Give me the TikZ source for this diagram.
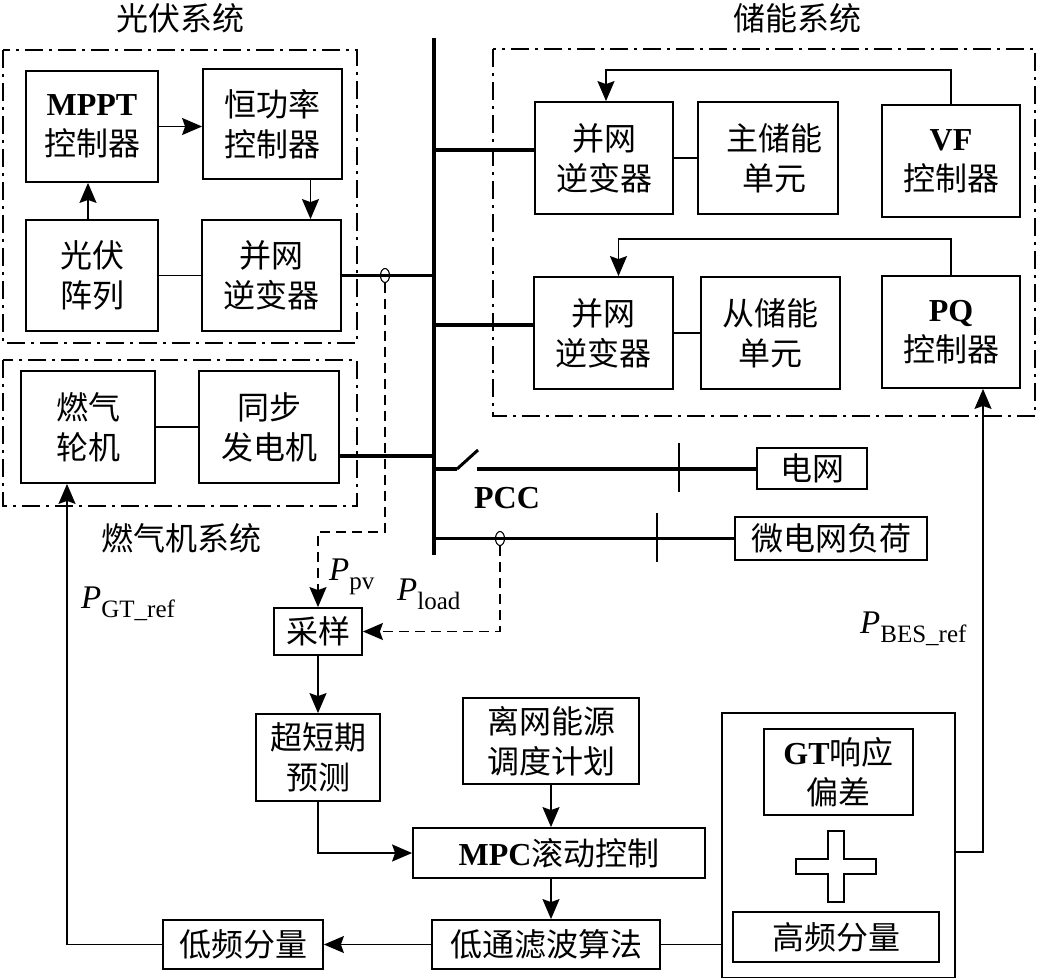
\documentclass[tikz,border=0pt]{standalone}
\usepackage{fontspec}
\setmainfont{Liberation Serif}
\newfontfamily\cjk{Noto Sans CJK SC}
\usetikzlibrary{arrows.meta,shapes.geometric}
\newcommand\lat[1]{{\rmfamily\bfseries #1}}
\newcommand\Pl[1]{{\rmfamily\itshape P}\raisebox{-9pt}{\rmfamily\fontsize{25pt}{25pt}\selectfont #1}}
\newcommand\bx[6]{\node[box, minimum width={(#4-#2)*1pt}, minimum height={(#5-#3)*1pt}] (#1) at ({(#2+#4)/2},{(#3+#5)/2}) {#6};}
\begin{document}
\begin{tikzpicture}[x=1pt,y=-1pt,
  box/.style={draw, line width=1.8pt, inner sep=0pt, align=center, font=\cjk\fontsize{32pt}{40pt}\selectfont},
  arr/.style={line width=1.6pt, -{Stealth[length=20pt,width=17pt,inset=3pt]}},
  ln/.style={line width=1.6pt},
  feeder/.style={line width=3.8pt},
  sysframe/.style={line width=1.5pt, dash pattern=on 18pt off 6pt on 3pt off 6pt},
  sigarr/.style={line width=1.6pt, dash pattern=on 10pt off 6pt, -{Stealth[length=20pt,width=17pt,inset=3pt]}},
  lbl/.style={font=\cjk\fontsize{32pt}{40pt}\selectfont, inner sep=0pt},
  plbl/.style={font=\fontsize{33pt}{33pt}\selectfont, inner sep=0pt, anchor=base west},
  ct/.style={draw, ellipse, line width=1.1pt, minimum width=9pt, minimum height=14pt, inner sep=0pt},
]
\useasboundingbox (0,0) rectangle (1041,977);

% system frames
\draw[sysframe] (3,50) rectangle (357,343);
\draw[sysframe] (3,360) rectangle (357,506);
\draw[sysframe] (493,49) rectangle (1035,416);
\node[lbl] (pvlabel) at (180,18) {光伏系统};
\node[lbl] (beslabel) at (797,18) {储能系统};
\node[lbl] (gtlabel) at (181,538) {燃气机系统};

% bus
\coordinate (bustop) at (434,38);
\coordinate (busbot) at (434,555);
\draw[line width=4.5pt] (bustop) -- (busbot);
\coordinate (ct1x) at (385,0);
\coordinate (ct2x) at (500,0);

% PV system
\bx{mppt}{26}{71}{158}{182}{\lat{MPPT}\\控制器}
\bx{hgl}{203}{69}{342}{179}{恒功率\\控制器}
\bx{pva}{26}{220}{158}{331}{光伏\\阵列}
\bx{pvinv}{202}{220}{341}{331}{并网\\逆变器}
\draw[arr] (mppt.east) -- (mppt.east -| hgl.west);
\draw[arr] ([xshift=38pt]hgl.south) -- ([xshift=38pt]hgl.south |- pvinv.north);
\draw[arr] ([xshift=-4pt]pva.north) -- ([xshift=-4pt]mppt.south);
\draw[ln] (pva.east) -- (pvinv.west);
\draw[feeder] (pvinv.east) -- (pvinv.east -| bustop);
\node[ct] (ct1) at (pvinv.east -| ct1x) {};

% gas turbine system
\bx{gt}{21}{371}{155}{483}{燃气\\轮机}
\bx{sg}{199}{371}{339}{483}{同步\\发电机}
\draw[ln] (gt.east) -- (sg.west);
\draw[feeder] ([yshift=-29pt]sg.east) -- ([yshift=-29pt]sg.east -| bustop);

% storage system
\bx{inva}{535}{102}{673}{214}{并网\\逆变器}
\bx{mainu}{698}{102}{838}{214}{\hspace*{12pt}主储能\\\hspace*{12pt}单元}
\bx{vf}{882}{105}{1020}{217}{\lat{VF}\\控制器}
\bx{invb}{534}{277}{673}{389}{并网\\逆变器}
\bx{slaveu}{701}{277}{840}{389}{从储能\\单元}
\bx{pq}{882}{276}{1020}{388}{\lat{PQ}\\控制器}
\draw[feeder] ([yshift=8pt]inva.west -| bustop) -- ([yshift=8pt]inva.west);
\draw[feeder] ([yshift=8pt]invb.west -| bustop) -- ([yshift=8pt]invb.west);
\draw[ln] (inva.east) -- (mainu.west);
\draw[ln] (invb.east) -- (slaveu.west);
\draw[arr] (vf.north) -- ++(0,-34) -| ([xshift=2pt]inva.north);
\draw[arr] (pq.north) -- ++(0,-36) -| ([xshift=15pt]invb.north);

% grid and load
\bx{grid}{757}{448}{867}{489}{电网}
\bx{load}{735}{517}{927}{560}{微电网负荷}
\coordinate (swa) at (457,469);
\coordinate (swb) at (477,469);
\draw[feeder] (swa -| bustop) -- (swa);
\draw[line width=3pt] (swa) -- ++(21,-19);
\draw[feeder] (swb) -- (grid.west |- swb);
\coordinate (tk1) at (679,469);
\draw[ln] ([yshift=26pt]tk1) -- ([yshift=-23pt]tk1);
\draw[feeder] (load.west -| bustop) -- (load.west);
\coordinate (tk2) at (657,538);
\draw[ln] ([yshift=25pt]tk2) -- ([yshift=-24pt]tk2);
\node[font=\rmfamily\bfseries\fontsize{32pt}{32pt}\selectfont, inner sep=0pt] (pcc) at (507,498) {PCC};
\node[ct] (ct2) at (load.west -| ct2x) {};

% control chain
\bx{cy}{274}{608}{362}{655}{采样}
\bx{pred}{256}{714}{380}{801}{超短期\\预测}
\bx{plan}{463}{698}{639}{784}{离网能源\\调度计划}
\bx{mpc}{413}{828}{705}{878}{\lat{MPC}滚动控制}
\bx{lpf}{432}{920}{660}{969}{低通滤波算法}
\bx{lf}{163}{920}{323}{969}{低频分量}
\draw[sigarr] (ct1.south) -- ++(0,249) -| (cy.north);
\draw[sigarr] (ct2.south) |- (cy.east);
\draw[arr] (cy.south) -- (pred.north);
\draw[arr] (pred.south) |- (mpc.west);
\draw[arr] (plan.south) -- (plan.south |- mpc.north);
\draw[arr] (plan.south |- mpc.south) -- (plan.south |- lpf.north);
\draw[arr] (lpf.west) -- (lf.east);
\draw[arr] (lf.west) -| ([xshift=-21pt]gt.south);

% high frequency block
\node[draw, line width=1.8pt, inner sep=0pt, minimum width=233pt, minimum height=265pt] (big) at (838.5,845.5) {};
\bx{gtdev}{764}{729}{913}{815}{\lat{GT}响应\\偏差}
\bx{hf}{733}{912}{939}{962}{高频分量}
\draw[ln, fill=white] (828,831) -- (844,831) -- (844,859) -- (876,859) -- (876,874) -- (844,874) -- (844,902) -- (828,902) -- (828,874) -- (796,874) -- (796,859) -- (828,859) -- cycle;
\draw[ln] (lpf.east) -- (lpf.east -| big.west);
\draw[arr] ([yshift=-6.5pt]big.east) -| ([xshift=32pt]pq.south);

% signal labels
\node[plbl] (ppv) at (329,580) {\Pl{pv}};
\node[plbl] (pload) at (397,600) {\Pl{load}};
\node[plbl] (pgt) at (81,608) {\Pl{GT\_ref}};
\node[plbl] (pbes) at (860,633) {\Pl{BES\_ref}};
\end{tikzpicture}
\end{document}
